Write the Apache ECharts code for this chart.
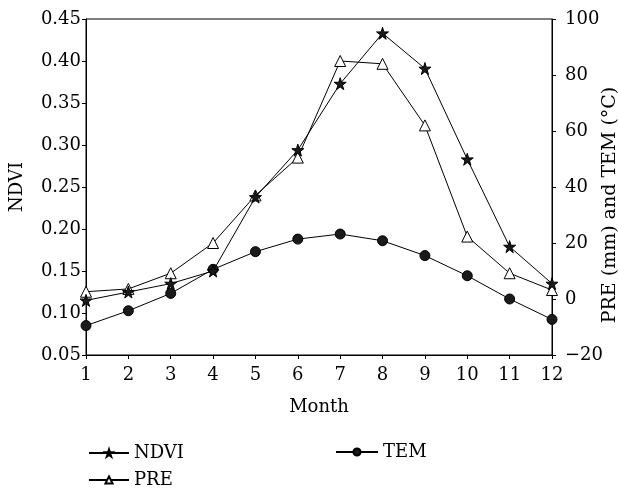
<!DOCTYPE html>
<html>
<head>
<meta charset="utf-8">
<script src="https://cdn.jsdelivr.net/npm/echarts@6/dist/echarts.min.js"></script>
<style>
  html, body { margin: 0; padding: 0; background: #fff; }
  #main { width: 618px; height: 490px; }
</style>
</head>
<body>
<div id="main"></div>
<script>
var months = ['1', '2', '3', '4', '5', '6', '7', '8', '9', '10', '11', '12'];
var ndvi = [0.115, 0.125, 0.135, 0.150, 0.238, 0.294, 0.373, 0.433, 0.391, 0.283, 0.179, 0.135];
var pre = [2.6, 3.6, 9.2, 20.0, 37.0, 50.5, 85.0, 84.0, 62.0, 22.3, 9.2, 3.2];
var tem = [-9.5, -4.2, 2.0, 10.6, 16.9, 21.4, 23.2, 20.8, 15.5, 8.3, 0.0, -7.3];

var starPath = 'path://M50,0 L61,35 L98,35 L68,57 L79,91 L50,70 L21,91 L32,57 L2,35 L39,35 Z';
var font = 'DejaVu Serif';
var fs = 18;

var chart = echarts.init(document.getElementById('main'));
chart.setOption({
  animation: false,
  textStyle: { fontFamily: font, color: '#000' },
  grid: {
    left: 86, right: 66, top: 19, bottom: 135,
    outerBoundsMode: 'none',
    show: true, borderColor: '#000', borderWidth: 1
  },
  // right axis title, placed by hand (axis name would not sit right)
  graphic: [{
    type: 'text',
    x: 610, y: 205,
    rotation: Math.PI / 2,
    style: {
      text: 'PRE (mm) and TEM (°C)',
      fontFamily: font, fontSize: 19, fill: '#000',
      align: 'center', verticalAlign: 'middle'
    }
  }],
  legend: [{
    orient: 'vertical',
    left: 88, top: 444,
    padding: 0,
    itemWidth: 40, itemHeight: 9, itemGap: 9,
    textStyle: { fontFamily: font, fontSize: fs, color: '#000' },
    data: ['NDVI', 'PRE']
  }, {
    orient: 'vertical',
    left: 335, top: 443,
    padding: 0,
    itemWidth: 42, itemHeight: 9,
    textStyle: { fontFamily: font, fontSize: fs, color: '#000' },
    data: ['TEM']
  }],
  xAxis: {
    type: 'category',
    data: months,
    boundaryGap: false,
    name: 'Month',
    nameLocation: 'middle',
    nameGap: 43,
    nameTextStyle: { fontFamily: font, fontSize: fs, color: '#000' },
    axisLine: { onZero: false, lineStyle: { color: '#000', width: 1 } },
    axisTick: { show: true, length: 4, lineStyle: { color: '#000' } },
    axisLabel: { fontFamily: font, fontSize: fs, color: '#000', margin: 11 },
    splitLine: { show: false }
  },
  yAxis: [{
    type: 'value',
    min: 0.05, max: 0.45, interval: 0.05,
    name: 'NDVI',
    nameLocation: 'middle',
    nameGap: 60,
    nameRotate: 90,
    nameTextStyle: { fontFamily: font, fontSize: fs, color: '#000' },
    axisLine: { show: true, onZero: false, lineStyle: { color: '#000', width: 1 } },
    axisTick: { show: true, length: 4, lineStyle: { color: '#000' } },
    axisLabel: {
      fontFamily: font, fontSize: fs, color: '#000', margin: 5,
      formatter: function (v) { return v.toFixed(2); }
    },
    splitLine: { show: false }
  }, {
    type: 'value',
    min: -20, max: 100, interval: 20,
    position: 'right',
    axisLine: { show: true, onZero: false, lineStyle: { color: '#000', width: 1 } },
    axisTick: { show: true, length: 4, lineStyle: { color: '#000' } },
    axisLabel: {
      fontFamily: font, fontSize: fs, color: '#000', margin: 13,
      formatter: function (v) { return v < 0 ? '\u2212' + Math.abs(v) : String(v); }
    },
    splitLine: { show: false }
  }],
  series: [{
    name: 'NDVI',
    type: 'line',
    yAxisIndex: 0,
    data: ndvi,
    symbol: starPath,
    symbolSize: 12,
    lineStyle: { color: '#000', width: 1 },
    itemStyle: { color: '#1a1a1a', borderColor: '#000', borderWidth: 1 },
    z: 3
  }, {
    name: 'PRE',
    type: 'line',
    yAxisIndex: 1,
    data: pre,
    symbol: 'triangle',
    symbolSize: 11,
    lineStyle: { color: '#000', width: 1 },
    itemStyle: { color: '#fff', borderColor: '#000', borderWidth: 1 },
    z: 2
  }, {
    name: 'TEM',
    type: 'line',
    yAxisIndex: 1,
    data: tem,
    symbol: 'circle',
    symbolSize: 10,
    lineStyle: { color: '#000', width: 1 },
    itemStyle: { color: '#1a1a1a', borderColor: '#000', borderWidth: 1 },
    z: 2
  }]
});
</script>
</body>
</html>
